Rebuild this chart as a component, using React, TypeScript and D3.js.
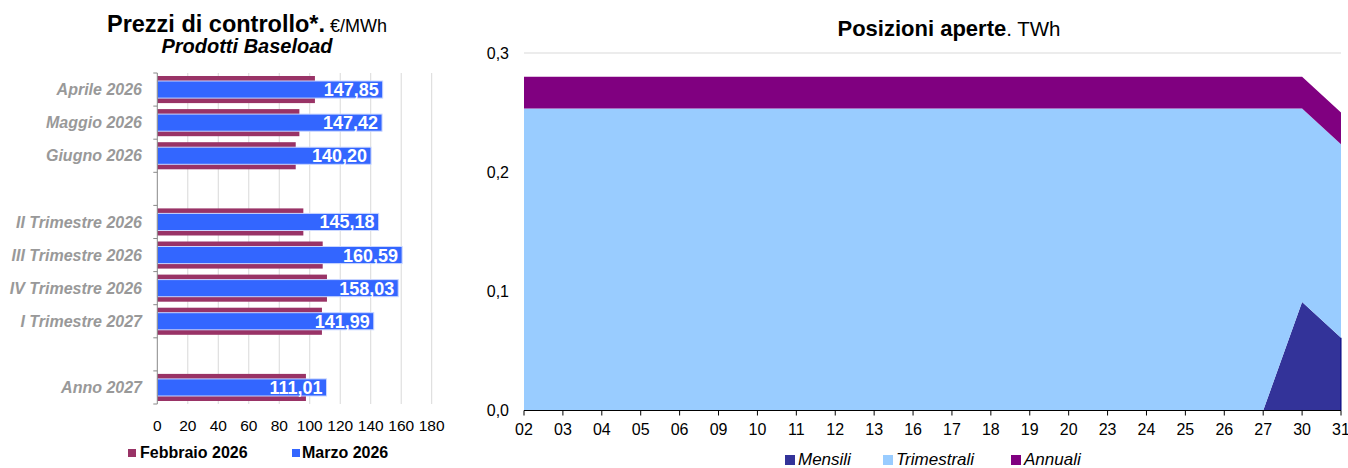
import React from "react";
import * as d3 from "d3";

// ---- Prezzi di controllo (€/MWh) ----
const priceRows = [
  "Aprile 2026",
  "Maggio 2026",
  "Giugno 2026",
  "",
  "II Trimestre 2026",
  "III Trimestre 2026",
  "IV Trimestre 2026",
  "I Trimestre 2027",
  "",
  "Anno 2027",
];
const febbraio = [103.4, 93.2, 90.8, null, 95.8, 108.5, 111.3, 108.0, null, 97.5];
const marzo = [147.85, 147.42, 140.2, null, 145.18, 160.59, 158.03, 141.99, null, 111.01];
const priceTicks = [0, 20, 40, 60, 80, 100, 120, 140, 160, 180];

// ---- Posizioni aperte (TWh) ----
const days = ["02", "03", "04", "05", "06", "09", "10", "11", "12", "13", "16", "17", "18", "19", "20", "23", "24", "25", "26", "27", "30", "31"];
const mensili = [0, 0, 0, 0, 0, 0, 0, 0, 0, 0, 0, 0, 0, 0, 0, 0, 0, 0, 0, 0, 0.091, 0.061];
const trimestrali = [0.2535, 0.2535, 0.2535, 0.2535, 0.2535, 0.2535, 0.2535, 0.2535, 0.2535, 0.2535, 0.2535, 0.2535, 0.2535, 0.2535, 0.2535, 0.2535, 0.2535, 0.2535, 0.2535, 0.2535, 0.1625, 0.1625];
const annuali = [0.0265, 0.0265, 0.0265, 0.0265, 0.0265, 0.0265, 0.0265, 0.0265, 0.0265, 0.0265, 0.0265, 0.0265, 0.0265, 0.0265, 0.0265, 0.0265, 0.0265, 0.0265, 0.0265, 0.0265, 0.0265, 0.0265];
const posTicks = [0, 0.1, 0.2, 0.3];

const FONT = "'Liberation Sans', Arial, Helvetica, sans-serif";
const C_FEB = "#993366";
const C_MAR = "#3366FF";
const C_MEN = "#333399";
const C_TRI = "#99CCFF";
const C_ANN = "#800080";
const GRID = "#d9d9d9";

const fmtIt = (v: number, d: number) => v.toFixed(d).replace(".", ",");

function PriceChart() {
  const x = d3.scaleLinear().domain([0, 180]).range([157.3, 431.7]);
  const y = d3.scaleBand<number>().domain(d3.range(priceRows.length)).range([73, 404]);
  const bw = y.bandwidth();
  return (
    <g>
      <text x={247} y={32} textAnchor="middle" fontFamily={FONT}>
        <tspan fontWeight="bold" fontSize={23.5}>Prezzi di controllo*.</tspan>
        <tspan fontSize={18}> €/MWh</tspan>
      </text>
      <text x={247} y={53} textAnchor="middle" fontFamily={FONT} fontWeight="bold" fontStyle="italic" fontSize={20}>
        Prodotti Baseload
      </text>
      {priceTicks.slice(1).map((t) => (
        <line key={t} x1={x(t)} x2={x(t)} y1={73} y2={404} stroke={GRID} strokeWidth={1} />
      ))}
      {febbraio.map((v, i) =>
        v == null ? null : (
          <rect key={"f" + i} x={x(0)} y={(y(i) as number) + 3} width={x(v) - x(0)} height={bw - 6} fill={C_FEB} />
        )
      )}
      {marzo.map((v, i) =>
        v == null ? null : (
          <g key={"m" + i}>
            <rect x={x(0)} y={(y(i) as number) + 8} width={x(v) - x(0)} height={bw - 16} fill={C_MAR} stroke="#c9d6ff" strokeWidth={1} />
            <text x={x(v) - 4} y={(y(i) as number) + bw / 2} dy="0.36em" textAnchor="end" fill="#fff" fontFamily={FONT} fontWeight="bold" fontSize={18}>
              {fmtIt(v, 2)}
            </text>
          </g>
        )
      )}
      <line x1={x(0)} x2={x(0)} y1={73} y2={404} stroke="#888" strokeWidth={1} />
      {d3.range(priceRows.length + 1).map((i) => {
        const yy = i < priceRows.length ? (y(i) as number) : 404;
        return <line key={"tk" + i} x1={x(0) - 4} x2={x(0)} y1={yy} y2={yy} stroke="#888" strokeWidth={1} />;
      })}
      {priceRows.map((c, i) =>
        c ? (
          <text key={"c" + i} x={142} y={(y(i) as number) + bw / 2} dy="0.35em" textAnchor="end" fill="#999" fontFamily={FONT} fontWeight="bold" fontStyle="italic" fontSize={16}>
            {c}
          </text>
        ) : null
      )}
      {priceTicks.map((t) => (
        <text key={"xt" + t} x={x(t)} y={431} textAnchor="middle" fontFamily={FONT} fontSize={15.5}>
          {t}
        </text>
      ))}
      <rect x={128} y={449} width={8} height={8} fill={C_FEB} />
      <text x={140} y={458} fontFamily={FONT} fontWeight="bold" fontSize={16}>Febbraio 2026</text>
      <rect x={292} y={449} width={8} height={8} fill={C_MAR} />
      <text x={302} y={458} fontFamily={FONT} fontWeight="bold" fontSize={16}>Marzo 2026</text>
    </g>
  );
}

function PositionsChart() {
  const x = d3.scalePoint<string>().domain(days).range([524, 1341]);
  const y = d3.scaleLinear().domain([0, 0.3]).range([410.5, 53]);
  const rows = days.map((d, i) => ({ day: d, Mensili: mensili[i], Trimestrali: trimestrali[i], Annuali: annuali[i] }));
  const keys = ["Mensili", "Trimestrali", "Annuali"];
  const colors: Record<string, string> = { Mensili: C_MEN, Trimestrali: C_TRI, Annuali: C_ANN };
  const series = d3.stack<any>().keys(keys)(rows);
  const area = d3
    .area<any>()
    .x((d) => x(d.data.day) as number)
    .y0((d) => y(d[0]))
    .y1((d) => y(d[1]));
  const legendX = [785, 883, 1011];
  return (
    <g>
      <text x={949} y={36} textAnchor="middle" fontFamily={FONT}>
        <tspan fontWeight="bold" fontSize={22}>Posizioni aperte</tspan>
        <tspan fontSize={20.5}>. TWh</tspan>
      </text>
      {posTicks.slice(1).map((t) => (
        <line key={t} x1={524} x2={1341} y1={y(t)} y2={y(t)} stroke={GRID} strokeWidth={1} />
      ))}
      {series.map((s) => (
        <path key={s.key} d={area(s) as string} fill={colors[s.key]} />
      ))}
      <line x1={1341} x2={1341} y1={y(mensili[mensili.length - 1])} y2={y(0)} stroke="#000080" strokeWidth={1} />
      <line x1={524} x2={1341} y1={y(0)} y2={y(0)} stroke="#000" strokeWidth={1} />
      {days.map((d) => (
        <g key={d}>
          <line x1={x(d)} x2={x(d)} y1={y(0)} y2={y(0) + 5} stroke="#000" strokeWidth={1} />
          <text x={x(d)} y={435} textAnchor="middle" fontFamily={FONT} fontSize={16}>
            {d}
          </text>
        </g>
      ))}
      {posTicks.map((t) => (
        <text key={"yt" + t} x={509} y={y(t)} dy="0.35em" textAnchor="end" fontFamily={FONT} fontSize={16}>
          {fmtIt(t, 1)}
        </text>
      ))}
      {keys.map((k, i) => (
        <g key={"lg" + k}>
          <rect x={legendX[i]} y={455} width={10} height={10} fill={colors[k]} />
          <text x={legendX[i] + 13} y={465} fontFamily={FONT} fontStyle="italic" fontSize={17}>
            {k}
          </text>
        </g>
      ))}
    </g>
  );
}

export default function App() {
  return (
    <svg
      width={1348}
      height={468}
      viewBox="0 0 1348 468"
      style={{ position: "absolute", left: 0, top: 0, display: "block", background: "#fff" }}
    >
      <rect x={0} y={0} width={1348} height={468} fill="#fff" />
      <PriceChart />
      <PositionsChart />
    </svg>
  );
}
